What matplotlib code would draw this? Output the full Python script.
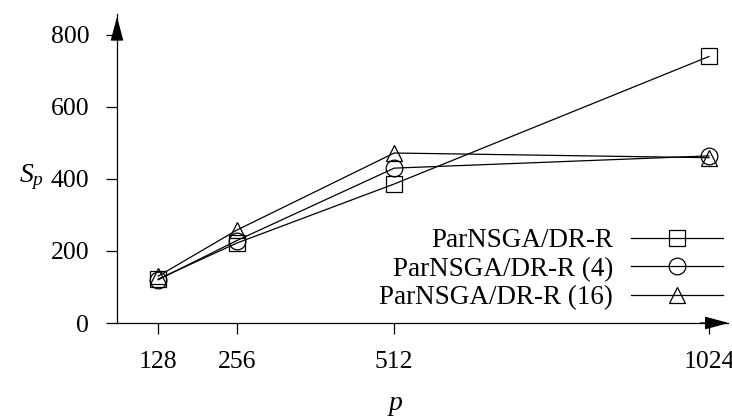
import matplotlib.pyplot as plt

plt.rcParams['font.family'] = ['Liberation Serif', 'DejaVu Serif']
plt.rcParams['mathtext.fontset'] = 'custom'
plt.rcParams['mathtext.it'] = 'Liberation Serif:italic'
plt.rcParams['mathtext.rm'] = 'Liberation Serif'

procs = [128, 256, 512, 1024]
sp_plain = [122, 222, 386, 740]
sp_4 = [120, 229, 430, 464]
sp_16 = [130, 258, 472, 459]
labels = ['ParNSGA/DR-R', 'ParNSGA/DR-R (4)', 'ParNSGA/DR-R (16)']

W, H = 732, 420
fig = plt.figure(figsize=(W / 100, H / 100), dpi=100)
ax = fig.add_axes([117 / W, (H - 323) / H, (728 - 117) / W, (323 - 14) / H])

style = dict(color='black', lw=0.9, markerfacecolor='none', markeredgecolor='black', markeredgewidth=0.9)
ax.plot(procs, sp_plain, marker='s', markersize=12, label=labels[0], **style)
ax.plot(procs, sp_4, marker='o', markersize=12, label=labels[1], **style)
ax.plot(procs, sp_16, marker='^', markersize=11, label=labels[2], **style)

ax.set_xlim(61, 1055)
ax.set_ylim(0, 858)
ax.set_xticks(procs)
ax.set_yticks([0, 200, 400, 600, 800])
ax.tick_params(axis='both', direction='out', length=8, width=0.9, labelsize=18.5)
ax.tick_params(axis='x', pad=12)
ax.tick_params(axis='y', pad=12)

for s in ['top', 'right']:
    ax.spines[s].set_visible(False)
for s in ['left', 'bottom']:
    ax.spines[s].set_linewidth(0.9)

# arrow heads on the axes
head = '-|>,head_length=0.75,head_width=0.2'
ax.annotate('', xy=(1.006, 0), xytext=(0.95, 0), xycoords='axes fraction',
            arrowprops=dict(arrowstyle=head, color='black', lw=0.9, mutation_scale=20),
            annotation_clip=False)
ax.annotate('', xy=(0, 1.0), xytext=(0, 0.92), xycoords='axes fraction',
            arrowprops=dict(arrowstyle=head, color='black', lw=0.9, mutation_scale=20),
            annotation_clip=False)

fig.text(395 / W, 1 - 405 / H, '$p$', fontsize=20, ha='center', va='center')
fig.text(32 / W, 1 - 177 / H, '$S_p$', fontsize=20, ha='center', va='center')

ax.legend(loc='lower right', bbox_to_anchor=(723 / W, 1 - 310 / H), bbox_transform=fig.transFigure,
          frameon=False, markerfirst=False, fontsize=19.5, handlelength=3.4,
          handletextpad=0.65, labelspacing=0.12, borderaxespad=0, borderpad=0)

fig.savefig('out.png', dpi=100)
